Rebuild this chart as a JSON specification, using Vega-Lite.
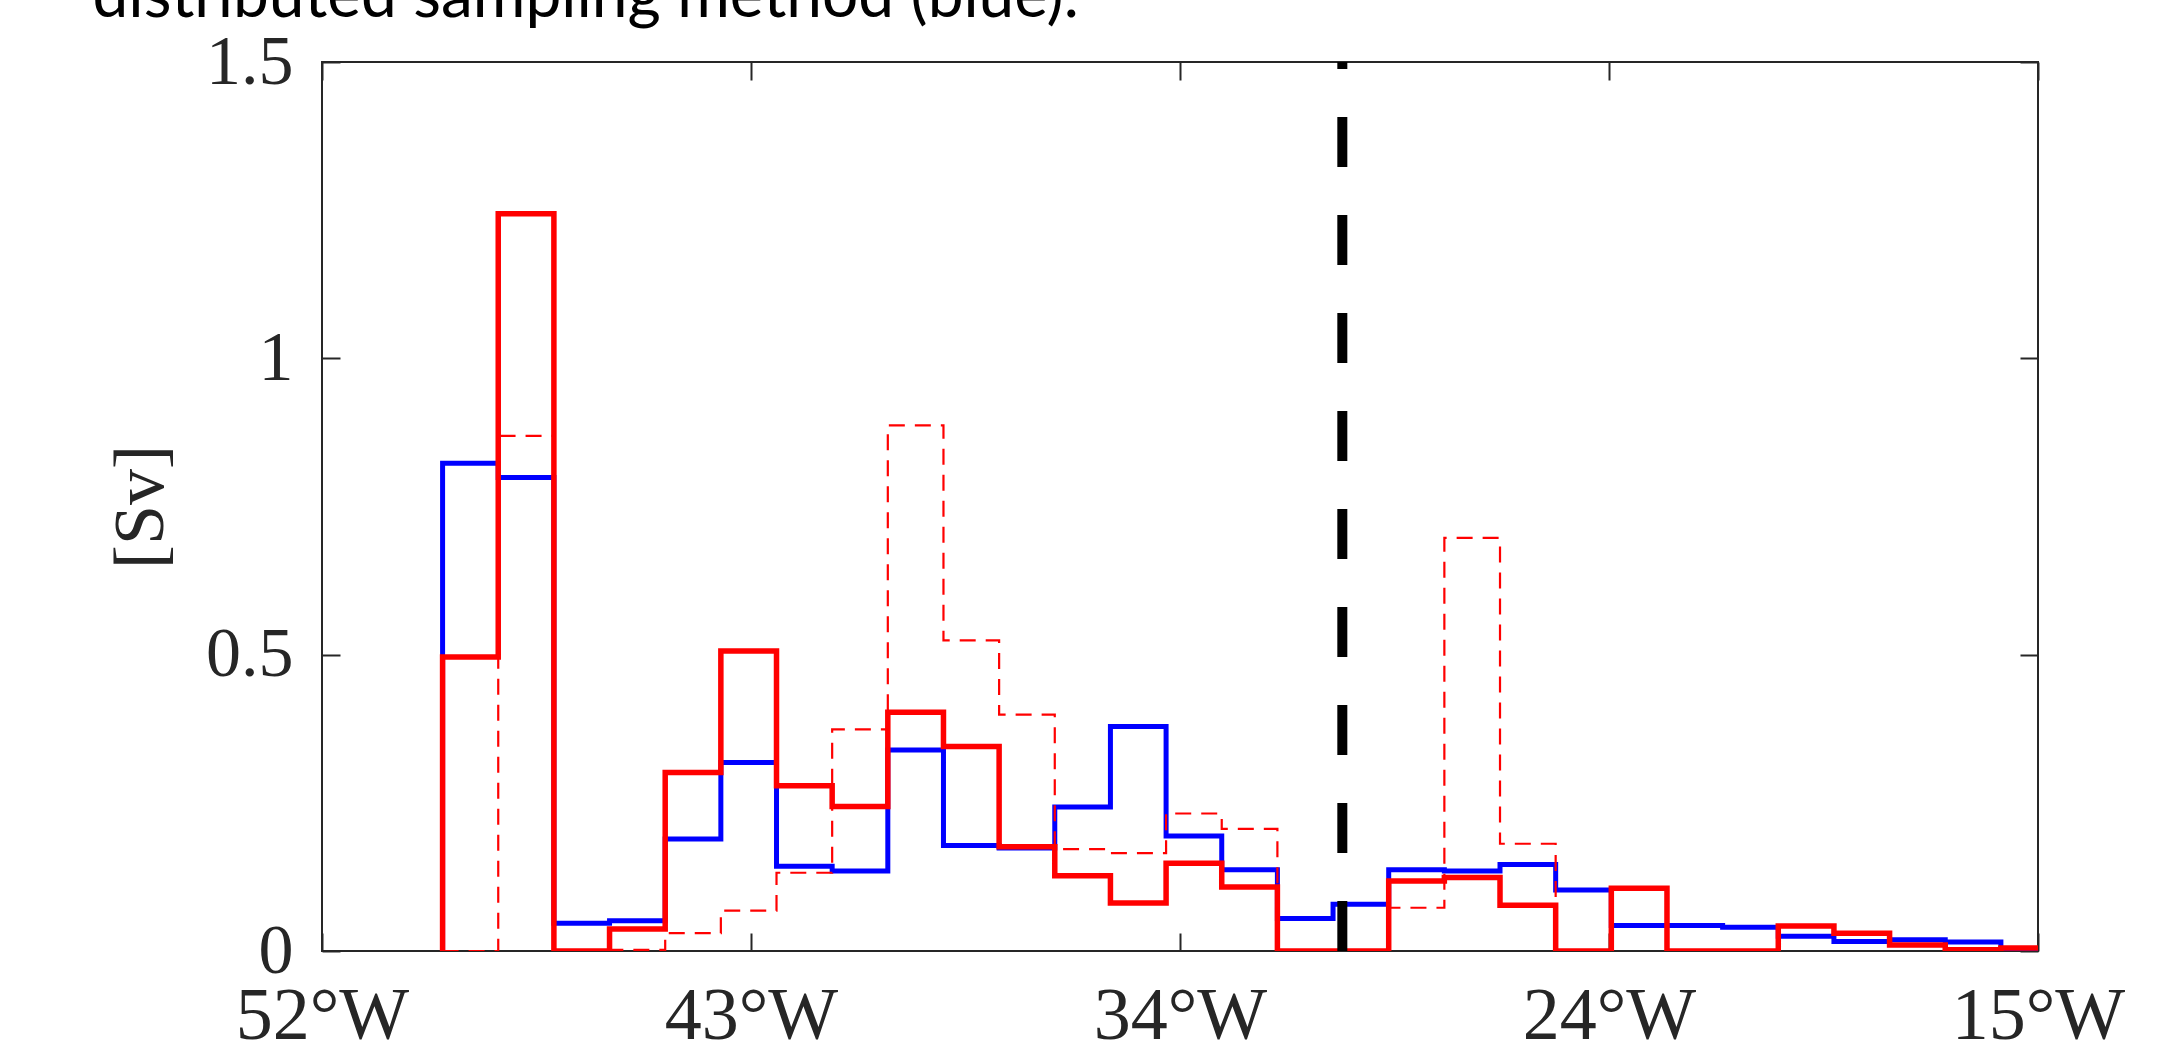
{
  "$schema": "https://vega.github.io/schema/vega-lite/v6.json",
  "width": 1716,
  "height": 889,
  "autosize": {"type": "none"},
  "padding": {"left": 322, "top": 62, "right": 123, "bottom": 99},
  "background": "white",
  "config": {
    "view": {"stroke": "#262626", "strokeWidth": 2},
    "axis": {
      "grid": false,
      "domain": false,
      "labelFont": "Liberation Serif",
      "labelFontSize": 70,
      "labelColor": "#262626",
      "tickColor": "#262626",
      "tickWidth": 2,
      "tickSize": -18,
      "titleFont": "Liberation Serif",
      "titleFontSize": 72,
      "titleFontWeight": "normal",
      "titleColor": "#262626"
    }
  },
  "datasets": {
    "blue": [
      {"i": 0, "lon": -49.4, "v": 0},
      {"i": 1, "lon": -49.4, "v": 0.823},
      {"i": 2, "lon": -48.2, "v": 0.799},
      {"i": 3, "lon": -47.0, "v": 0.047},
      {"i": 4, "lon": -45.8, "v": 0.051},
      {"i": 5, "lon": -44.6, "v": 0.189},
      {"i": 6, "lon": -43.4, "v": 0.318},
      {"i": 7, "lon": -42.2, "v": 0.143},
      {"i": 8, "lon": -41.0, "v": 0.135},
      {"i": 9, "lon": -39.8, "v": 0.339},
      {"i": 10, "lon": -38.6, "v": 0.178},
      {"i": 11, "lon": -37.4, "v": 0.174},
      {"i": 12, "lon": -36.2, "v": 0.243},
      {"i": 13, "lon": -35.0, "v": 0.379},
      {"i": 14, "lon": -33.8, "v": 0.194},
      {"i": 15, "lon": -32.6, "v": 0.137},
      {"i": 16, "lon": -31.4, "v": 0.055},
      {"i": 17, "lon": -30.2, "v": 0.079},
      {"i": 18, "lon": -29.0, "v": 0.137},
      {"i": 19, "lon": -27.8, "v": 0.135},
      {"i": 20, "lon": -26.6, "v": 0.146},
      {"i": 21, "lon": -25.4, "v": 0.103},
      {"i": 22, "lon": -24.2, "v": 0.043},
      {"i": 23, "lon": -23.0, "v": 0.043},
      {"i": 24, "lon": -21.8, "v": 0.040},
      {"i": 25, "lon": -20.6, "v": 0.025},
      {"i": 26, "lon": -19.4, "v": 0.016},
      {"i": 27, "lon": -18.2, "v": 0.019},
      {"i": 28, "lon": -17.0, "v": 0.015},
      {"i": 29, "lon": -15.8, "v": 0.004},
      {"i": 30, "lon": -14.6, "v": 0.004}
    ],
    "red": [
      {"i": 0, "lon": -49.4, "v": 0},
      {"i": 1, "lon": -49.4, "v": 0.496},
      {"i": 2, "lon": -48.2, "v": 1.244},
      {"i": 3, "lon": -47.0, "v": 0},
      {"i": 4, "lon": -45.8, "v": 0.037},
      {"i": 5, "lon": -44.6, "v": 0.301},
      {"i": 6, "lon": -43.4, "v": 0.506},
      {"i": 7, "lon": -42.2, "v": 0.279},
      {"i": 8, "lon": -41.0, "v": 0.244},
      {"i": 9, "lon": -39.8, "v": 0.403},
      {"i": 10, "lon": -38.6, "v": 0.345},
      {"i": 11, "lon": -37.4, "v": 0.176},
      {"i": 12, "lon": -36.2, "v": 0.127},
      {"i": 13, "lon": -35.0, "v": 0.081},
      {"i": 14, "lon": -33.8, "v": 0.148},
      {"i": 15, "lon": -32.6, "v": 0.108},
      {"i": 16, "lon": -31.4, "v": 0},
      {"i": 17, "lon": -30.2, "v": 0},
      {"i": 18, "lon": -29.0, "v": 0.118},
      {"i": 19, "lon": -27.8, "v": 0.124},
      {"i": 20, "lon": -26.6, "v": 0.077},
      {"i": 21, "lon": -25.4, "v": 0},
      {"i": 22, "lon": -24.2, "v": 0.106},
      {"i": 23, "lon": -23.0, "v": 0},
      {"i": 24, "lon": -21.8, "v": 0},
      {"i": 25, "lon": -20.6, "v": 0.042},
      {"i": 26, "lon": -19.4, "v": 0.030},
      {"i": 27, "lon": -18.2, "v": 0.010},
      {"i": 28, "lon": -17.0, "v": 0.002},
      {"i": 29, "lon": -15.8, "v": 0.005},
      {"i": 30, "lon": -14.6, "v": 0.005}
    ],
    "reddash": [
      {"i": 0, "lon": -49.4, "v": 0},
      {"i": 1, "lon": -49.4, "v": 0},
      {"i": 2, "lon": -48.2, "v": 0.869},
      {"i": 3, "lon": -47.0, "v": 0},
      {"i": 4, "lon": -45.8, "v": 0.002},
      {"i": 5, "lon": -44.6, "v": 0.030},
      {"i": 6, "lon": -43.4, "v": 0.068},
      {"i": 7, "lon": -42.2, "v": 0.132},
      {"i": 8, "lon": -41.0, "v": 0.374},
      {"i": 9, "lon": -39.8, "v": 0.887},
      {"i": 10, "lon": -38.6, "v": 0.524},
      {"i": 11, "lon": -37.4, "v": 0.399},
      {"i": 12, "lon": -36.2, "v": 0.172},
      {"i": 13, "lon": -35.0, "v": 0.165},
      {"i": 14, "lon": -33.8, "v": 0.232},
      {"i": 15, "lon": -32.6, "v": 0.206},
      {"i": 16, "lon": -31.4, "v": 0},
      {"i": 17, "lon": -30.2, "v": 0},
      {"i": 18, "lon": -29.0, "v": 0.073},
      {"i": 19, "lon": -27.8, "v": 0.697},
      {"i": 20, "lon": -26.6, "v": 0.181},
      {"i": 21, "lon": -25.4, "v": 0},
      {"i": 22, "lon": -24.2, "v": 0.106},
      {"i": 23, "lon": -23.0, "v": 0},
      {"i": 24, "lon": -21.8, "v": 0},
      {"i": 25, "lon": -20.6, "v": 0.042},
      {"i": 26, "lon": -19.4, "v": 0.030},
      {"i": 27, "lon": -18.2, "v": 0.010},
      {"i": 28, "lon": -17.0, "v": 0.002},
      {"i": 29, "lon": -15.8, "v": 0.005},
      {"i": 30, "lon": -14.6, "v": 0.005}
    ],
    "front": [
      {"lon": -30.0}
    ]
  },
  "resolve": {"axis": {"x": "independent", "y": "independent"}},
  "layer": [
    {
      "data": {"name": "blue"},
      "mark": {"type": "line", "interpolate": "step-after", "color": "#0000FF", "strokeWidth": 5, "clip": true},
      "encoding": {
        "x": {
          "field": "lon", "type": "quantitative",
          "scale": {"domain": [-52, -15], "nice": false, "zero": false},
          "axis": {
            "orient": "bottom",
            "values": [-52, -42.75, -33.5, -24.25, -15],
            "labelExpr": "round(abs(datum.value)) + '°W'",
            "labelFontSize": 74,
            "labelPadding": 47,
            "labelOverlap": false,
            "labelBound": false,
            "labelFlush": false,
            "title": null
          }
        },
        "y": {
          "field": "v", "type": "quantitative",
          "scale": {"domain": [0, 1.5], "nice": false, "zero": true},
          "axis": {
            "orient": "left",
            "values": [0, 0.5, 1, 1.5],
            "format": "~g",
            "labelPadding": 47,
            "labelOverlap": false,
            "labelBound": false,
            "labelFlush": false,
            "title": "[Sv]",
            "titlePadding": 28
          }
        },
        "order": {"field": "i", "type": "quantitative"}
      }
    },
    {
      "data": {"name": "reddash"},
      "mark": {"type": "line", "interpolate": "step-after", "color": "#FF0000", "strokeWidth": 2.2, "strokeDash": [16, 10], "clip": true},
      "encoding": {
        "x": {
          "field": "lon", "type": "quantitative",
          "axis": {
            "orient": "top",
            "values": [-52, -42.75, -33.5, -24.25, -15],
            "labels": false,
            "title": "distributed sampling method (blue).",
            "titleX": -230,
            "titleY": -46,
            "titleAlign": "left",
            "titleAnchor": "start",
            "titleAngle": 0,
            "titleBaseline": "alphabetic",
            "titleFont": "Lato",
            "titleFontSize": 64,
            "titleFontWeight": "normal",
            "titleColor": "#000000",
            "titlePadding": 0
          }
        },
        "y": {
          "field": "v", "type": "quantitative",
          "axis": {"orient": "right", "values": [0, 0.5, 1, 1.5], "labels": false, "title": null}
        },
        "order": {"field": "i", "type": "quantitative"}
      }
    },
    {
      "data": {"name": "red"},
      "mark": {"type": "line", "interpolate": "step-after", "color": "#FF0000", "strokeWidth": 5.5, "clip": true},
      "encoding": {
        "x": {"field": "lon", "type": "quantitative", "axis": null},
        "y": {"field": "v", "type": "quantitative", "axis": null},
        "order": {"field": "i", "type": "quantitative"}
      }
    },
    {
      "data": {"name": "front"},
      "mark": {"type": "rule", "color": "#000000", "strokeWidth": 10, "strokeDash": [50, 48]},
      "encoding": {
        "x": {"field": "lon", "type": "quantitative", "axis": null},
        "y": {"datum": 0, "type": "quantitative", "axis": null},
        "y2": {"datum": 1.5}
      }
    }
  ]
}
